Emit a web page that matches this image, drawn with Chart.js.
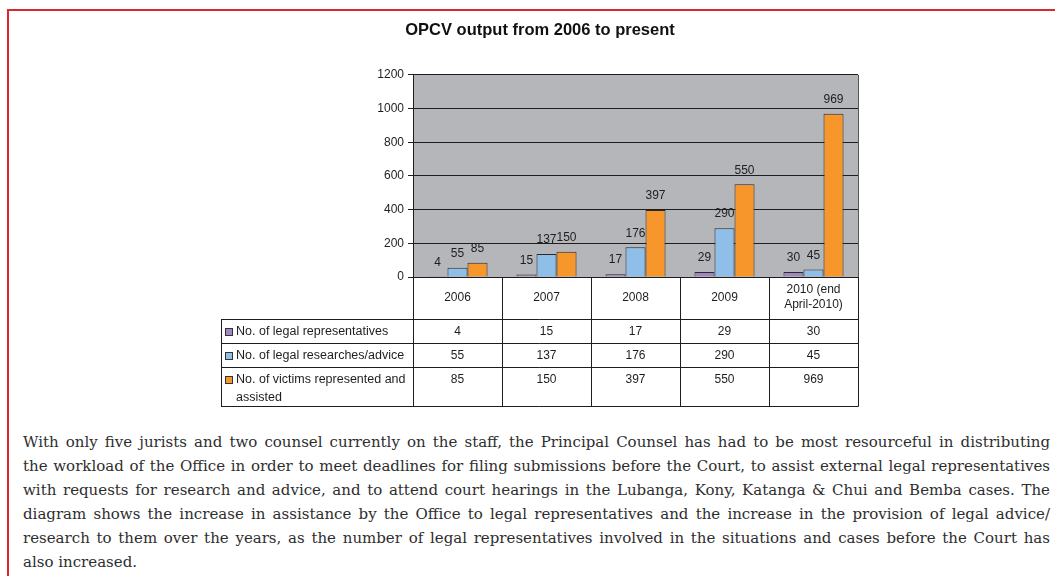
<!DOCTYPE html>
<html>
<head>
<meta charset="utf-8">
<script src="https://cdn.jsdelivr.net/npm/chart.js@4.4.0/dist/chart.umd.min.js"></script>
<style>
  body { margin: 0; background: #fff; width: 1055px; height: 576px; overflow: hidden; position: relative; }
  #frame { position: absolute; left: 7px; top: 9px; width: 1100px; height: 620px;
           border-top: 2px solid #d9282e; border-left: 2px solid #d9282e; }
  #wrap { position: absolute; left: 0; top: 0; width: 1055px; height: 420px; }
  #note { position: absolute; left: 23px; top: 430px; width: 1027px;
          font-family: 'DejaVu Serif', 'Liberation Serif', serif; font-size: 15px;
          line-height: 24px; color: #2e2e2e; }
  #note div { text-align: justify; text-align-last: justify; }
  #note div.last { text-align-last: left; }
</style>
</head>
<body>
<div id="frame"></div>
<div id="wrap"><canvas id="opcvChart" width="1055" height="420"></canvas></div>
<div id="note">
  <div>With only five jurists and two counsel currently on the staff, the Principal Counsel has had to be most resourceful in distributing</div>
  <div>the workload of the Office in order to meet deadlines for filing submissions before the Court, to assist external legal representatives</div>
  <div>with requests for research and advice, and to attend court hearings in the Lubanga, Kony, Katanga &amp; Chui and Bemba cases. The</div>
  <div>diagram shows the increase in assistance by the Office to legal representatives and the increase in the provision of legal advice/</div>
  <div>research to them over the years, as the number of legal representatives involved in the situations and cases before the Court has</div>
  <div class="last">also increased.</div>
</div>
<script>
// chart data
const years = ['2006', '2007', '2008', '2009', ['2010 (end', 'April-2010)']];
const legalReps = [4, 15, 17, 29, 30];
const legalResearch = [55, 137, 176, 290, 45];
const victims = [85, 150, 397, 550, 969];
const seriesNames = [
    ['No. of legal representatives'],
    ['No. of legal researches/advice'],
    ['No. of victims represented and', 'assisted']
];
const yTicks = [0, 200, 400, 600, 800, 1000, 1200];

const ink = '#1e1e1e';
const sans = '"Liberation Sans", Arial, sans-serif';

// gray plot background + right edge
const plotBg = {
    id: 'plotBg',
    beforeDraw(chart) {
        const a = chart.chartArea, ctx = chart.ctx;
        ctx.save();
        ctx.fillStyle = '#b5b6ba';
        ctx.fillRect(a.left, a.top, a.right - a.left, a.bottom - a.top);
        ctx.restore();
    },
    afterDraw(chart) {
        const a = chart.chartArea, ctx = chart.ctx;
        ctx.save();
        ctx.strokeStyle = '#555';
        ctx.lineWidth = 1;
        ctx.beginPath();
        ctx.moveTo(Math.round(a.right) + 0.5, a.top);
        ctx.lineTo(Math.round(a.right) + 0.5, a.bottom);
        ctx.stroke();
        ctx.restore();
    }
};

// value labels above bars
const barValues = {
    id: 'barValues',
    afterDatasetsDraw(chart) {
        const ctx = chart.ctx;
        ctx.save();
        ctx.font = '12px ' + sans;
        ctx.fillStyle = ink;
        ctx.textAlign = 'center';
        ctx.textBaseline = 'middle';
        chart.data.datasets.forEach((ds, i) => {
            chart.getDatasetMeta(i).data.forEach((bar, j) => {
                ctx.fillText(ds.data[j], bar.x, bar.y - 14);
            });
        });
        ctx.restore();
    }
};

// data table under the axis
const dataTable = {
    id: 'dataTable',
    afterDraw(chart) {
        const ctx = chart.ctx, x = chart.scales.x, a = chart.chartArea;
        const half = (x.getPixelForValue(1) - x.getPixelForValue(0)) / 2;
        const rowLines = [319, 343, 367, 406];
        const legendLeft = 221;
        const px = v => Math.round(v) + 0.5;
        ctx.save();
        ctx.strokeStyle = ink;
        ctx.lineWidth = 1;
        ctx.beginPath();
        for (let i = 0; i <= chart.data.labels.length; i++) {
            const cx = px(x.getPixelForValue(0) - half + i * half * 2);
            ctx.moveTo(cx, a.bottom);
            ctx.lineTo(cx, rowLines[rowLines.length - 1] + 0.5);
        }
        ctx.moveTo(px(legendLeft), rowLines[0] + 0.5);
        ctx.lineTo(px(legendLeft), rowLines[rowLines.length - 1] + 0.5);
        rowLines.forEach(ry => {
            ctx.moveTo(legendLeft, ry + 0.5);
            ctx.lineTo(px(a.right), ry + 0.5);
        });
        ctx.stroke();

        ctx.textBaseline = 'middle';
        chart.data.datasets.forEach((ds, r) => {
            const ty = rowLines[r] + 13;
            // legend key
            ctx.fillStyle = ds.backgroundColor;
            ctx.fillRect(legendLeft + 4.5, ty - 3.5, 7, 7);
            ctx.strokeStyle = '#333';
            ctx.strokeRect(legendLeft + 4.5, ty - 3.5, 7, 7);
            ctx.fillStyle = ink;
            ctx.textAlign = 'left';
            ctx.font = '12.5px ' + sans;
            seriesNames[r].forEach((line, k) => {
                ctx.fillText(line, legendLeft + 15, ty + k * 18);
            });
            ctx.textAlign = 'center';
            ctx.font = '12px ' + sans;
            ds.data.forEach((v, j) => {
                ctx.fillText(String(v), x.getPixelForValue(j), ty);
            });
        });
        ctx.restore();
    }
};

const ctx = document.getElementById('opcvChart').getContext('2d');
const opcvChart = new Chart(ctx, {
    type: 'bar',
    data: {
        labels: years,
        datasets: [{
            label: seriesNames[0].join(' '),
            data: legalReps,
            backgroundColor: '#9f88c2'
        }, {
            label: seriesNames[1].join(' '),
            data: legalResearch,
            backgroundColor: '#8fbfe8'
        }, {
            label: seriesNames[2].join(' '),
            data: victims,
            backgroundColor: '#f7962b'
        }]
    },
    options: {
        responsive: false,
        animation: false,
        layout: { padding: { left: 222, right: 197, top: 0, bottom: 103 } },
        datasets: {
            bar: {
                categoryPercentage: 0.675,
                barPercentage: 1.0,
                borderColor: '#2a2a2a',
                borderWidth: 1
            }
        },
        plugins: {
            legend: { display: false },
            tooltip: { enabled: false },
            title: {
                display: true,
                text: 'OPCV output from 2006 to present',
                color: '#111',
                font: { family: sans, size: 16.5, weight: 'bold', lineHeight: 1.2 },
                padding: { top: 21, bottom: 34 }
            }
        },
        scales: {
            x: {
                grid: { display: false, drawTicks: false },
                border: { display: true, color: ink, width: 1 },
                ticks: {
                    color: ink,
                    font: { family: sans, size: 12, lineHeight: 15 / 12 },
                    padding: 13,
                    crossAlign: 'center',
                    maxRotation: 0,
                    autoSkip: false
                },
                afterFit(scale) { scale.height = 40; }
            },
            y: {
                min: 0,
                max: 1200,
                afterBuildTicks(scale) { scale.ticks = yTicks.map(v => ({ value: v })); },
                grid: { color: ink, lineWidth: 1, tickLength: 5, drawTicks: true },
                border: { display: true, color: ink, width: 1 },
                ticks: {
                    color: ink,
                    padding: 4,
                    font: { family: sans, size: 12 },
                    callback: v => String(v)
                },
                afterFit(scale) { scale.width = 191; }
            }
        }
    },
    plugins: [plotBg, barValues, dataTable]
});
</script>
</body>
</html>
